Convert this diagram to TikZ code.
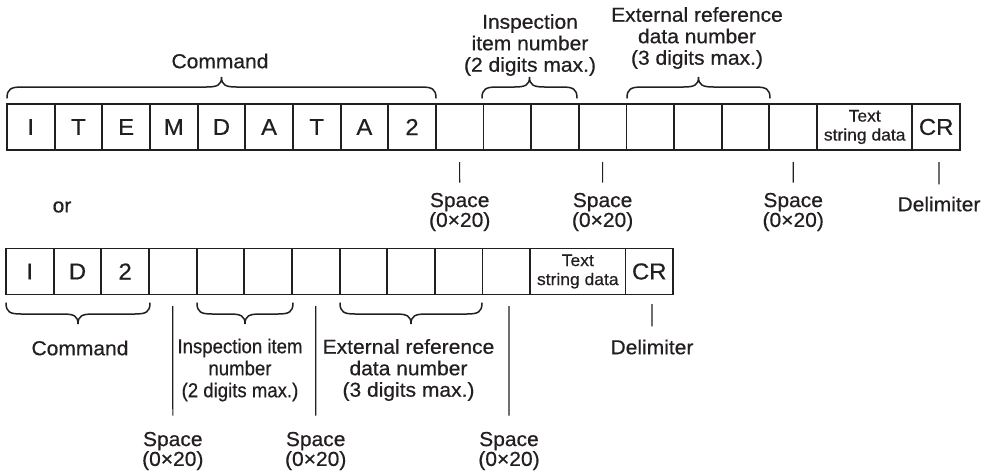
\documentclass[tikz,border=0pt]{standalone}
\usepackage{fontspec}
\setmainfont{Liberation Sans}[FakeStretch=1.04,FakeBold=0.5]
\newfontfamily\condfont{Liberation Sans}[FakeStretch=0.92,FakeBold=0.5]
\definecolor{ink}{RGB}{35,31,32}
\newcommand\mybrace[4]{%
  \pgfmathsetmacro\bxa{#1}%
  \pgfmathsetmacro\bxb{#2}%
  \pgfmathsetmacro\bxm{(#1+#2)/2}%
  \pgfmathsetmacro\bym{#3-11*#4}%
  \pgfmathsetmacro\byt{#3-21*#4}%
  \draw[bracestyle] (\bxa,#3) .. controls (\bxa,\bym+2*#4) and (\bxa+4,\bym) .. (\bxa+15,\bym)
    -- (\bxm-15,\bym) .. controls (\bxm-4,\bym) and (\bxm,\bym-2*#4) .. (\bxm,\byt)
    .. controls (\bxm,\bym-2*#4) and (\bxm+4,\bym) .. (\bxm+15,\bym)
    -- (\bxb-15,\bym) .. controls (\bxb-4,\bym) and (\bxb,\bym+2*#4) .. (\bxb,#3);
}
\begin{document}
\begin{tikzpicture}[x=1pt,y=-1pt,
  every node/.style={text=ink},
  cell/.style={draw=ink, line width=1.9pt, minimum width=47.65pt, minimum height=46pt,
    inner sep=0pt, outer sep=0pt, font=\fontsize{23}{25}\selectfont},
  wcell/.style={cell, minimum width=95.3pt, align=center, font=\fontsize{16.8}{19}\selectfont},
  lbl/.style={inner sep=0pt, align=center, font=\fontsize{20.2}{21.5}\selectfont},
  clbl/.style={inner sep=0pt, align=center, font=\condfont\fontsize{20.2}{22}\selectfont},
  splbl/.style={inner sep=0pt, align=center, font=\fontsize{20.2}{17.5}\selectfont},
  tick/.style={draw=ink, line width=1.1pt},
  bracestyle/.style={draw=ink, line width=1.5pt, line cap=round}]
\useasboundingbox[fill=white] (0,0) rectangle (986,474);

% ---- top row: ITEMDATA2 form ----
\foreach \t [count=\i from 0] in {I,T,E,M,D,A,T,A,2,{},{},{},{},{},{},{},{}}
  \node[cell] (t\i) at ({7+(\i+0.5)*47.65},127) {\t};
\node[wcell] (ttxt) at ({7+18*47.65},127) {Text\\string data};
\node[cell] (tcr) at ({7+19.5*47.65},127) {CR};

% ---- bottom row: ID2 form ----
\foreach \t [count=\i from 0] in {I,D,2,{},{},{},{},{},{},{},{}}
  \node[cell] (b\i) at ({6+(\i+0.5)*47.65},271.5) {\t};
\node[wcell] (btxt) at ({6+12*47.65},271.5) {Text\\string data};
\node[cell] (bcr) at ({6+13.5*47.65},271.5) {CR};

% ---- braces ----
\mybrace{7}{436}{98}{1}
\mybrace{482}{577}{98}{1}
\mybrace{627}{770}{98}{1}
\mybrace{6}{150}{303}{-1}
\mybrace{197}{293}{303}{-1}
\mybrace{340}{482}{303}{-1}

% ---- top labels ----
\node[lbl] (lcmd1) at (220,61) {Command};
\node[lbl] (linsp1) at (530,45) {Inspection\\item number\\(2 digits max.)};
\node[lbl] (lext1) at (697,38) {External reference\\data number\\(3 digits max.)};
\node[splbl] (s1) at (459.7,212) {Space\\(0×20)};
\node[splbl] (s2) at (602.6,212) {Space\\(0×20)};
\node[splbl] (s3) at (793.2,212) {Space\\(0×20)};
\node[lbl] (ldel1) at (939,204) {Delimiter};
\node[lbl] (lor) at (62,207) {or};

% ---- bottom labels ----
\node[lbl] (lcmd2) at (80,348) {Command};
\node[clbl] (linsp2) at (240,370) {Inspection item\\number\\(2 digits max.)};
\node[lbl] (lext2) at (408.5,370) {External reference\\data number\\(3 digits max.)};
\node[splbl] (s4) at (172.8,451) {Space\\(0×20)};
\node[splbl] (s5) at (315.7,451) {Space\\(0×20)};
\node[splbl] (s6) at (509,451) {Space\\(0×20)};
\node[lbl] (ldel2) at (652,347) {Delimiter};

% ---- ticks ----
\draw[tick] ([yshift=-12pt]t9.south) -- ([yshift=10pt]s1.north);
\draw[tick] ([yshift=-12pt]t12.south) -- ([yshift=10pt]s2.north);
\draw[tick] ([yshift=-12pt]t16.south) -- ([yshift=10pt]s3.north);
\draw[tick] ([xshift=2.8pt,yshift=-12pt]tcr.south) -- ([yshift=12pt]ldel1.north);
\draw[tick] ([yshift=-11.5pt]b3.south) -- ([yshift=16pt]s4.north);
\draw[tick] ([yshift=-11.5pt]b6.south) -- ([yshift=16pt]s5.north);
\draw[tick] ([xshift=2.7pt,yshift=-11.5pt]b10.south) -- ([yshift=16pt]s6.north);
\draw[tick] ([xshift=2.7pt,yshift=-9.5pt]bcr.south) -- ([yshift=13pt]ldel2.north);
\end{tikzpicture}
\end{document}
